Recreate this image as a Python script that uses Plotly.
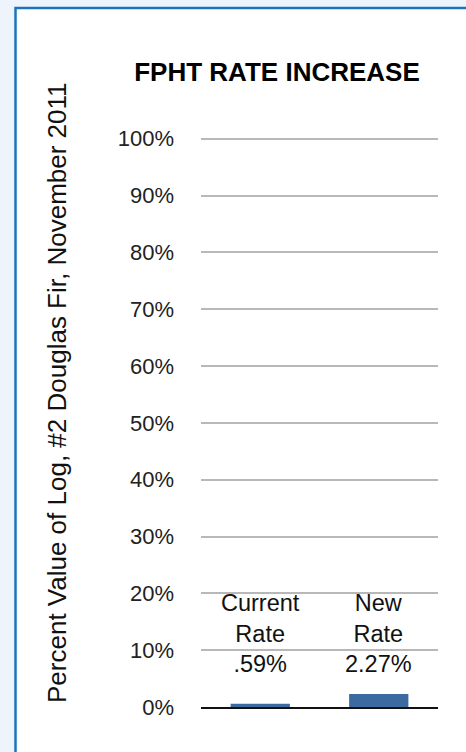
import plotly.graph_objects as go

categories = ["Current Rate", "New Rate"]
label_lines = [["Current", "Rate"], ["New", "Rate"]]
values = [0.59, 2.27]
value_labels = [".59%", "2.27%"]
tick_values = [0, 10, 20, 30, 40, 50, 60, 70, 80, 90, 100]
tick_labels = [f"{v}%" for v in tick_values]

W, H = 466, 752
ML, MR, MT, MB = 201, 28, 137, 45
PW = W - ML - MR
PH = H - MT - MB
YMAX = 100.3

FONT = "Liberation Sans, Arial, Helvetica, sans-serif"

fig = go.Figure()
fig.add_trace(go.Bar(
    x=categories, y=values,
    marker=dict(color="#3b6aa0", line=dict(width=0)),
    hoverinfo="x+y",
))

def px_x(p):
    return (p - ML) / PW

def px_y(p):
    return 1 - (p - MT) / PH

shapes = [
    dict(type="rect", xref="paper", yref="paper", layer="below",
         x0=px_x(15.5), x1=px_x(W + 20), y0=px_y(H + 20), y1=px_y(8),
         fillcolor="white", line=dict(color="#1c75bc", width=2.5)),
]

annotations = []
for cat, lines, vl in zip(categories, label_lines, value_labels):
    annotations.append(dict(
        x=cat, y=5.0, xref="x", yref="y", yanchor="bottom", xanchor="center",
        text="<br>".join(lines + [vl]), showarrow=False,
        font=dict(family=FONT, size=23.5, color="#111"),
    ))

annotations.append(dict(
    x=px_x(57), y=px_y(393), xref="paper", yref="paper",
    xanchor="center", yanchor="middle", textangle=-90, showarrow=False,
    text="Percent Value of Log, #2 Douglas Fir, November 2011",
    font=dict(family=FONT, size=26, color="#111"),
))

fig.update_layout(
    width=W, height=H,
    margin=dict(l=ML, r=MR, t=MT, b=MB, autoexpand=False),
    paper_bgcolor="#eef4fb",
    plot_bgcolor="white",
    bargap=0.5,
    showlegend=False,
    title=dict(text="<b>FPHT RATE INCREASE</b>", x=277 / W, xanchor="center",
               y=1 - 72 / H, yanchor="middle", yref="container",
               font=dict(family=FONT, size=26, color="#000")),
    shapes=shapes,
    annotations=annotations,
    xaxis=dict(showticklabels=False, showgrid=False, zeroline=False,
               showline=True, linecolor="#111", linewidth=2, ticks=""),
    yaxis=dict(range=[0, YMAX], tickvals=tick_values, ticktext=tick_labels,
               showgrid=True, gridcolor="#b8b8b8", gridwidth=2,
               zeroline=False, showline=False, ticks="",
               ticklabelstandoff=26,
               tickfont=dict(family=FONT, size=22, color="#222")),
)

fig.write_html(
    "out.html",
    config={"displayModeBar": False},
    post_script="document.documentElement.style.margin='0';document.body.style.margin='0';document.body.style.overflow='hidden';",
)
